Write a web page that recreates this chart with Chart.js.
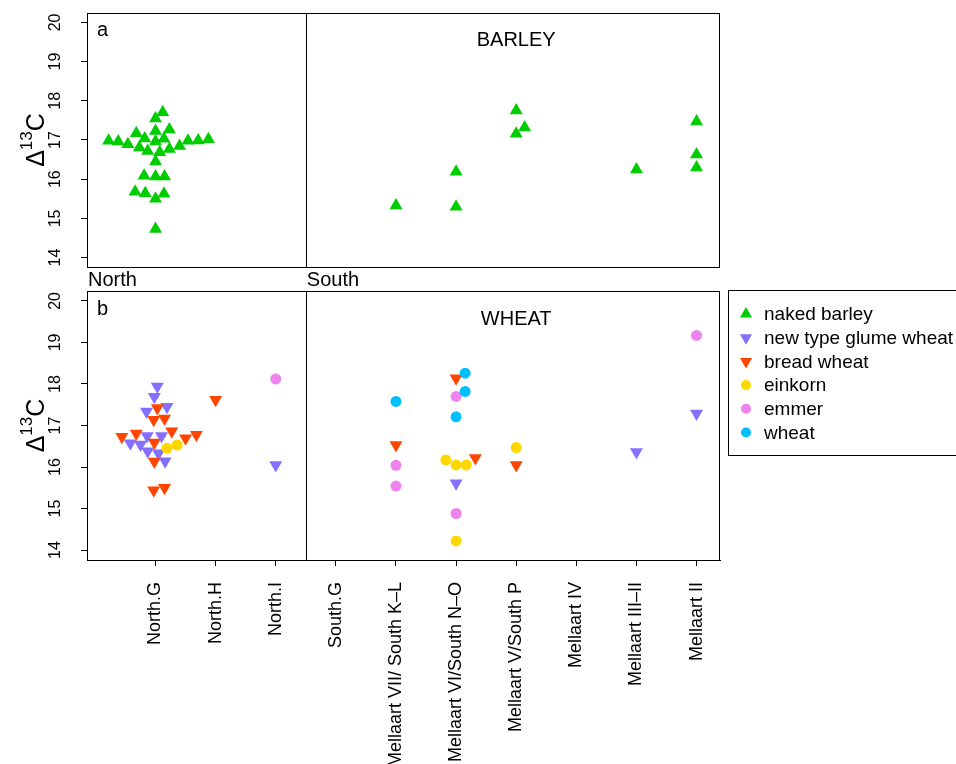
<!DOCTYPE html>
<html>
<head>
<meta charset="utf-8">
<script src="https://cdn.jsdelivr.net/npm/chart.js@4.4.1/dist/chart.umd.min.js"></script>
<style>
  html, body { margin: 0; padding: 0; background: #fff; }
  #wrap { position: relative; width: 956px; height: 764px; overflow: hidden; }
  canvas { position: absolute; left: 0; }
  #topChart { top: 0; }
  #bottomChart { top: 280px; }
</style>
</head>
<body>
<div id="wrap">
  <canvas id="topChart" width="956" height="290"></canvas>
  <canvas id="bottomChart" width="956" height="484"></canvas>
</div>
<script>
// data
const sites = ['North.G', 'North.H', 'North.I', 'South.G', 'Mellaart VII/ South K\u2013L',
  'Mellaart VI/South N\u2013O', 'Mellaart V/South P', 'Mellaart IV', 'Mellaart III\u2013II', 'Mellaart II']
const sitePos = [1, 2, 3, 4, 5, 6, 7, 8, 9, 10]
const yTicks = [14, 15, 16, 17, 18, 19, 20]

// naked barley (panel a)
const barleyX = [1.12, 1.00, 0.68, 1.00, 1.23, 0.22, 0.38, 0.54, 0.82, 1.00, 1.14, 0.73, 0.87, 1.07,
  1.23, 1.40, 1.54, 1.71, 1.88, 1.00, 0.81, 1.00, 1.15, 0.66, 0.83, 1.14, 1.00, 1.00,
  5, 6, 6, 7, 7.14, 7, 9, 10, 10, 10]
const barleyY = [17.71, 17.55, 17.17, 17.23, 17.27, 16.98, 16.96, 16.89, 17.04, 16.96, 17.03, 16.81, 16.72, 16.69,
  16.77, 16.85, 16.98, 16.99, 17.02, 16.45, 16.09, 16.07, 16.07, 15.68, 15.64, 15.63, 15.50, 14.73,
  15.33, 16.19, 15.30, 17.75, 17.32, 17.16, 16.25, 17.47, 16.63, 16.30]

// wheats (panel b)
const glumeX = [1.03, 0.98, 1.19, 0.85, 0.86, 1.10, 0.58, 0.75, 0.87, 1.05, 1.16, 3, 6, 9, 10]
const glumeY = [17.94, 17.69, 17.45, 17.34, 16.75, 16.75, 16.57, 16.54, 16.38, 16.33, 16.14, 16.05, 15.61, 16.36, 17.29]

const breadX = [1.03, 1.15, 0.97, 0.44, 0.68, 1.27, 1.50, 1.68, 0.98, 0.98, 0.97, 1.15, 2, 5, 6, 6.32, 7]
const breadY = [17.42, 17.17, 17.14, 16.73, 16.81, 16.86, 16.69, 16.78, 16.59, 16.13, 15.44, 15.50, 17.62, 16.53, 18.14, 16.22, 16.05]

const einkornX = [1.19, 1.36, 5.83, 6, 6.17, 6, 7]
const einkornY = [16.45, 16.53, 16.17, 16.05, 16.05, 14.22, 16.47]

const emmerX = [3, 5, 5, 6, 6, 10]
const emmerY = [18.12, 16.04, 15.54, 17.70, 14.88, 19.17]

const wheatX = [5, 6.15, 6.15, 6]
const wheatY = [17.58, 18.26, 17.82, 17.21]

const seriesNames = ['naked barley', 'new type glume wheat', 'bread wheat', 'einkorn', 'emmer', 'wheat']
const seriesColors = ['#00CD00', '#8470FF', '#FF4500', '#FFD700', '#EE82EE', '#00BFFF']
const seriesShapes = ['triangle', 'triangle', 'triangle', 'circle', 'circle', 'circle']
const seriesRotation = [0, 180, 180, 0, 0, 0]

const X_MIN = -0.14, X_MAX = 10.39
const Y_MIN = 13.76, Y_MAX = 20.24
const DIVIDE = 3.5
const FONT = "'Liberation Sans', Arial, Helvetica, sans-serif"

Chart.defaults.font.family = FONT
Chart.defaults.color = '#000'

const toPoints = (xs, ys) => xs.map((x, i) => ({ x, y: ys[i] }))

const makeDataset = (idx, xs, ys) => ({
  label: seriesNames[idx],
  data: toPoints(xs, ys),
  backgroundColor: seriesColors[idx],
  pointStyle: seriesShapes[idx],
  rotation: seriesRotation[idx],
  pointRadius: seriesShapes[idx] === 'triangle' ? 7.5 : 5.5,
  pointBorderWidth: 0,
  borderWidth: 0,
  order: 10 - idx
})

const yScale = () => ({
  type: 'linear',
  min: Y_MIN,
  max: Y_MAX,
  afterBuildTicks: s => { s.ticks = yTicks.map(v => ({ value: v })) },
  afterFit: s => {
    s.width = 87
    s.paddingTop = 0
    s.paddingBottom = 0
  },
  ticks: { minRotation: 90, maxRotation: 90, crossAlign: 'center', padding: 17, font: { size: 16 } },
  grid: { drawOnChartArea: false, tickLength: 6, color: '#000' },
  border: { color: '#000' }
})

// box, divider, y title and panel texts
const panelPlugin = (letter, title, titleY) => ({
  id: 'panel',
  afterDraw(chart) {
    const { ctx, chartArea: a, scales } = chart
    ctx.save()
    ctx.strokeStyle = '#000'
    ctx.lineWidth = 1
    ctx.strokeRect(Math.round(a.left) + 0.5, Math.round(a.top) + 0.5,
      Math.round(a.right - a.left) - 1, Math.round(a.bottom - a.top))
    const dx = Math.round(scales.x.getPixelForValue(DIVIDE)) + 0.5
    ctx.beginPath()
    ctx.moveTo(dx, a.top)
    ctx.lineTo(dx, a.bottom)
    ctx.stroke()

    ctx.fillStyle = '#000'
    ctx.textBaseline = 'middle'
    ctx.font = '20px ' + FONT
    ctx.textAlign = 'center'
    ctx.fillText(letter, scales.x.getPixelForValue(0.12), scales.y.getPixelForValue(19.8))
    ctx.fillText(title, scales.x.getPixelForValue(7), scales.y.getPixelForValue(titleY))

    // Δ13C axis title
    const cy = (a.top + a.bottom) / 2
    ctx.translate(44, cy)
    ctx.rotate(-Math.PI / 2)
    ctx.textBaseline = 'alphabetic'
    ctx.textAlign = 'left'
    ctx.font = '25px ' + FONT
    const wD = ctx.measureText('\u0394').width
    const wC = ctx.measureText('C').width
    ctx.font = '17px ' + FONT
    const w13 = ctx.measureText('13').width
    let x0 = -(wD + w13 + wC) / 2
    ctx.font = '25px ' + FONT
    ctx.fillText('\u0394', x0, 0)
    ctx.font = '17px ' + FONT
    ctx.fillText('13', x0 + wD, -12)
    ctx.font = '25px ' + FONT
    ctx.fillText('C', x0 + wD + w13, 0)
    ctx.restore()
  }
})

const northSouth = {
  id: 'northSouth',
  afterDraw(chart) {
    const { ctx, chartArea: a, scales } = chart
    ctx.save()
    ctx.fillStyle = '#000'
    ctx.font = '20px ' + FONT
    ctx.textBaseline = 'middle'
    ctx.textAlign = 'left'
    ctx.fillText('North', a.left + 1, a.bottom + 13)
    ctx.fillText('South', scales.x.getPixelForValue(DIVIDE) + 1, a.bottom + 13)
    ctx.restore()
  }
}

const legendBox = {
  id: 'legendBox',
  afterDraw(chart) {
    const { ctx } = chart
    ctx.save()
    ctx.strokeStyle = '#000'
    ctx.lineWidth = 1
    ctx.strokeRect(728.5, 10.5, 300, 165)
    ctx.font = '19px ' + FONT
    ctx.textBaseline = 'middle'
    ctx.textAlign = 'left'
    seriesNames.forEach((name, i) => {
      const y = 34 + i * 23.7
      ctx.fillStyle = seriesColors[i]
      Chart.helpers.drawPoint(ctx, {
        pointStyle: seriesShapes[i],
        rotation: seriesRotation[i],
        radius: seriesShapes[i] === 'triangle' ? 7 : 5,
        borderWidth: 0
      }, 746, y)
      ctx.fillStyle = '#000'
      ctx.fillText(name, 764, y + 1)
    })
    ctx.restore()
  }
}

const baseOptions = {
  responsive: false,
  animation: false,
  events: [],
  plugins: { legend: { display: false }, tooltip: { enabled: false } }
}

new Chart(document.getElementById('topChart'), {
  type: 'scatter',
  data: { datasets: [makeDataset(0, barleyX, barleyY)] },
  options: {
    ...baseOptions,
    layout: { padding: { left: 0, right: 236, top: 13, bottom: 23 } },
    scales: {
      x: { type: 'linear', min: X_MIN, max: X_MAX, display: false },
      y: yScale()
    }
  },
  plugins: [panelPlugin('a', 'BARLEY', 19.55), northSouth]
})

new Chart(document.getElementById('bottomChart'), {
  type: 'scatter',
  data: {
    datasets: [
      makeDataset(1, glumeX, glumeY),
      makeDataset(2, breadX, breadY),
      makeDataset(3, einkornX, einkornY),
      makeDataset(4, emmerX, emmerY),
      makeDataset(5, wheatX, wheatY)
    ]
  },
  options: {
    ...baseOptions,
    layout: { padding: { left: 0, right: 236, top: 11, bottom: 0 } },
    scales: {
      x: {
        type: 'linear',
        min: X_MIN,
        max: X_MAX,
        afterBuildTicks: s => { s.ticks = sitePos.map(v => ({ value: v })) },
        afterFit: s => {
          s.height = 204
          s.paddingLeft = 0
          s.paddingRight = 0
        },
        ticks: {
          autoSkip: false,
          minRotation: 90,
          maxRotation: 90,
          padding: 16,
          font: { size: 18 },
          callback: v => sites[sitePos.indexOf(v)]
        },
        grid: { drawOnChartArea: false, tickLength: 6, color: '#000' },
        border: { color: '#000' }
      },
      y: yScale()
    }
  },
  plugins: [panelPlugin('b', 'WHEAT', 19.55), legendBox]
})
</script>
</body>
</html>
